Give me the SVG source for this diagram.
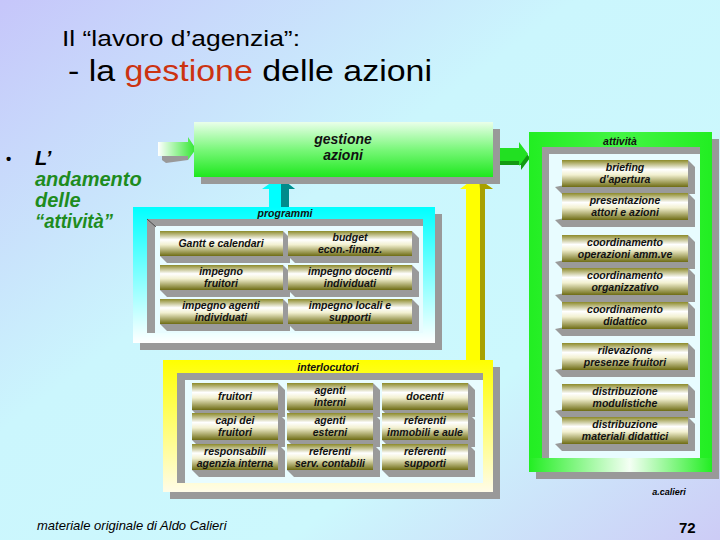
<svg xmlns="http://www.w3.org/2000/svg" width="720" height="540" viewBox="0 0 720 540">
<defs>
<linearGradient id="bg" x1="0" y1="0" x2="1" y2="1">
<stop offset="0" stop-color="#c6c6fa"/><stop offset="0.4" stop-color="#cbf6fd"/><stop offset="0.7" stop-color="#ccf8fd"/><stop offset="1" stop-color="#cdccf6"/>
</linearGradient>
<linearGradient id="olive" x1="0" y1="0" x2="0" y2="1">
<stop offset="0" stop-color="#8c8a2a"/><stop offset="0.35" stop-color="#ffffff"/><stop offset="0.55" stop-color="#f2f0d0"/><stop offset="1" stop-color="#6e6c14"/>
</linearGradient>
<linearGradient id="gbox" x1="0" y1="0" x2="0" y2="1">
<stop offset="0" stop-color="#eaffea"/><stop offset="0.5" stop-color="#7af77a"/><stop offset="1" stop-color="#1ee81e"/>
</linearGradient>
<linearGradient id="garrow" x1="0" y1="0" x2="1" y2="0">
<stop offset="0" stop-color="#ffffff"/><stop offset="1" stop-color="#2ee62e"/>
</linearGradient>
<linearGradient id="cyanf" x1="0" y1="0" x2="0" y2="1">
<stop offset="0" stop-color="#00ffff"/><stop offset="1" stop-color="#ffffff"/>
</linearGradient>
<linearGradient id="yelf" x1="0" y1="0" x2="0" y2="1">
<stop offset="0" stop-color="#ffff00"/><stop offset="1" stop-color="#fffce8"/>
</linearGradient>
<linearGradient id="grnf" x1="0" y1="0" x2="1" y2="0">
<stop offset="0" stop-color="#22ee22"/><stop offset="0.5" stop-color="#44f544"/><stop offset="1" stop-color="#22ee22"/>
</linearGradient>
<linearGradient id="grnb" x1="0" y1="0" x2="1" y2="0">
<stop offset="0" stop-color="#22ee22"/><stop offset="0.55" stop-color="#f4fff4"/><stop offset="1" stop-color="#22ee22"/>
</linearGradient>
<style>
.t{font-family:"Liberation Sans",Arial,sans-serif;font-weight:bold;font-style:italic;font-size:10.5px;fill:#111;text-anchor:middle}
.tb{font-size:14px}
.ob{fill:url(#olive)}
.ex{fill:#9a9a9a}
.sh{fill:#999999}
.pan{fill:#e8fcff}
.bev{fill:#9c9c9c}
</style>
</defs>
<rect width="720" height="540" fill="url(#bg)"/>

<g id="title" font-family="Liberation Sans,Arial,sans-serif">
<text x="62" y="46" font-size="22" fill="#000" textLength="238" lengthAdjust="spacingAndGlyphs">Il “lavoro d’agenzia”:</text>
<text x="68" y="81" font-size="30" fill="#000" textLength="364" lengthAdjust="spacingAndGlyphs">- la <tspan fill="#cc3311">gestione</tspan> delle azioni</text>
</g>

<g id="bullet" font-family="Liberation Sans,Arial,sans-serif" font-weight="bold" font-size="20">
<text x="6" y="164" font-size="15" fill="#000">•</text>
<text x="35" y="165" font-style="italic" fill="#000">L’</text>
<text x="35" y="186" font-style="italic" fill="#1e8c1e">andamento</text>
<text x="35" y="207" font-style="italic" fill="#1e8c1e">delle</text>
<text x="35" y="228" font-style="italic" fill="#1e8c1e" textLength="78" lengthAdjust="spacingAndGlyphs">“attività”</text>
</g>

<g id="connectors">
<polygon class="sh" points="162,156 188,156 188,160 166,163 162,160"/>
<polygon fill="url(#garrow)" points="158,142 188,142 188,137 196,149 188,160 188,156 158,156"/>
<polygon fill="#129a12" points="495,152 521,152 521,146 530,158 521,170 521,165 495,165"/>
<polygon fill="#22e022" points="493,148 519,148 519,142 528,154 519,166 519,161 493,161"/>
<polygon fill="#00ffff" points="279,177 295,189 289,189 289,213 269,213 269,189 262,189"/>
<polygon fill="#008b8b" points="281,178 295,189 289,189 289,213 281,213"/>
<polygon fill="#ffff00" points="476,177 493,189 485,189 485,361 466,361 466,189 460,189"/>
<polygon fill="#a8a000" points="479,179 493,189 485,189 485,361 480,361 480,189"/>
</g>

<g id="gestione">
<rect x="201" y="129" width="299" height="55" class="sh"/>
<rect x="194" y="122" width="299" height="55" fill="url(#gbox)"/>
<text class="t tb" x="343" y="144">gestione</text>
<text class="t tb" x="343" y="160">azioni</text>
</g>

<g id="programmi">
<rect x="140" y="214" width="302" height="136" class="sh"/>
<rect x="133" y="207" width="302" height="136" fill="url(#cyanf)"/>
<rect x="147" y="219" width="276" height="114" class="pan"/>
<path class="bev" d="M147,219H423V226H155V333H147Z"/>
<line x1="147" y1="219" x2="156" y2="227" stroke="#333" stroke-width="0.8"/>
<text class="t" x="285" y="217">programmi</text>
</g>

<g id="p1"><polygon class="ex" points="283,231 290,238 290,263 167,263 160,256"/><rect class="ob" x="160" y="231" width="123" height="25"/><text class="t" x="221" y="247">Gantt e calendari</text></g>
<g id="p2"><polygon class="ex" points="412,231 419,238 419,263 295,263 288,256"/><rect class="ob" x="288" y="231" width="124" height="25"/><text class="t" x="350" y="241">budget</text><text class="t" x="350" y="253">econ.-finanz.</text></g>
<g id="p3"><polygon class="ex" points="283,265 290,272 290,297 167,297 160,290"/><rect class="ob" x="160" y="265" width="123" height="25"/><text class="t" x="221" y="275">impegno</text><text class="t" x="221" y="287">fruitori</text></g>
<g id="p4"><polygon class="ex" points="412,265 419,272 419,297 295,297 288,290"/><rect class="ob" x="288" y="265" width="124" height="25"/><text class="t" x="350" y="275">impegno docenti</text><text class="t" x="350" y="287">individuati</text></g>
<g id="p5"><polygon class="ex" points="283,299 290,306 290,331 167,331 160,324"/><rect class="ob" x="160" y="299" width="123" height="25"/><text class="t" x="221" y="309">impegno agenti</text><text class="t" x="221" y="321">individuati</text></g>
<g id="p6"><polygon class="ex" points="412,299 419,306 419,331 295,331 288,324"/><rect class="ob" x="288" y="299" width="124" height="25"/><text class="t" x="350" y="309">impegno locali e</text><text class="t" x="350" y="321">supporti</text></g>

<g id="interlocutori">
<rect x="170" y="367" width="330" height="132" class="sh"/>
<rect x="163" y="360" width="330" height="132" fill="url(#yelf)"/>
<rect x="177" y="373" width="306" height="110" class="pan"/>
<path class="bev" d="M177,373H483V380H185V483H177Z"/>
<text class="t" x="328" y="371">interlocutori</text>
</g>

<g id="i1"><polygon class="ex" points="278,383 285,390 285,417 199,417 192,410"/><rect class="ob" x="192" y="383" width="86" height="27"/><text class="t" x="235" y="400">fruitori</text></g>
<g id="i2"><polygon class="ex" points="373,383 380,390 380,417 294,417 287,410"/><rect class="ob" x="287" y="383" width="86" height="27"/><text class="t" x="330" y="394">agenti</text><text class="t" x="330" y="406">interni</text></g>
<g id="i3"><polygon class="ex" points="468,383 475,390 475,417 389,417 382,410"/><rect class="ob" x="382" y="383" width="86" height="27"/><text class="t" x="425" y="400">docenti</text></g>
<g id="i4"><polygon class="ex" points="278,413 285,420 285,447 199,447 192,440"/><rect class="ob" x="192" y="413" width="86" height="27"/><text class="t" x="235" y="424">capi dei</text><text class="t" x="235" y="436">fruitori</text></g>
<g id="i5"><polygon class="ex" points="373,413 380,420 380,447 294,447 287,440"/><rect class="ob" x="287" y="413" width="86" height="27"/><text class="t" x="330" y="424">agenti</text><text class="t" x="330" y="436">esterni</text></g>
<g id="i6"><polygon class="ex" points="468,413 475,420 475,447 389,447 382,440"/><rect class="ob" x="382" y="413" width="86" height="27"/><text class="t" x="425" y="424">referenti</text><text class="t" x="425" y="436">immobili e aule</text></g>
<g id="i7"><polygon class="ex" points="278,444 285,451 285,477 199,477 192,470"/><rect class="ob" x="192" y="444" width="86" height="26"/><text class="t" x="235" y="455">responsabili</text><text class="t" x="235" y="467">agenzia interna</text></g>
<g id="i8"><polygon class="ex" points="373,444 380,451 380,477 294,477 287,470"/><rect class="ob" x="287" y="444" width="86" height="26"/><text class="t" x="330" y="455">referenti</text><text class="t" x="330" y="467">serv. contabili</text></g>
<g id="i9"><polygon class="ex" points="468,444 475,451 475,477 389,477 382,470"/><rect class="ob" x="382" y="444" width="86" height="26"/><text class="t" x="425" y="455">referenti</text><text class="t" x="425" y="467">supporti</text></g>

<g id="attivita">
<rect x="536" y="139" width="183" height="340" class="sh"/>
<rect x="529" y="132" width="183" height="340" fill="url(#grnf)"/>
<rect x="529" y="458" width="183" height="14" fill="url(#grnb)"/>
<rect x="542" y="147" width="158" height="311" class="pan"/>
<path class="bev" d="M542,147H700V154H549V458H542Z"/>
<text class="t" x="620" y="145">attività</text>
</g>

<g id="a1"><polygon class="ex" points="688,160 695,167 695,194 562,194 555,187"/><rect class="ob" x="562" y="160" width="126" height="27"/><text class="t" x="625" y="171">briefing</text><text class="t" x="625" y="183">d'apertura</text></g>
<g id="a2"><polygon class="ex" points="688,193 695,200 695,227 562,227 555,220"/><rect class="ob" x="562" y="193" width="126" height="27"/><text class="t" x="625" y="204">presentazione</text><text class="t" x="625" y="216">attori e azioni</text></g>
<g id="a3"><polygon class="ex" points="688,235 695,242 695,269 562,269 555,262"/><rect class="ob" x="562" y="235" width="126" height="27"/><text class="t" x="625" y="246">coordinamento</text><text class="t" x="625" y="258">operazioni  amm.ve</text></g>
<g id="a4"><polygon class="ex" points="688,268 695,275 695,302 562,302 555,295"/><rect class="ob" x="562" y="268" width="126" height="27"/><text class="t" x="625" y="279">coordinamento</text><text class="t" x="625" y="291">organizzativo</text></g>
<g id="a5"><polygon class="ex" points="688,302 695,309 695,336 562,336 555,329"/><rect class="ob" x="562" y="302" width="126" height="27"/><text class="t" x="625" y="313">coordinamento</text><text class="t" x="625" y="325">didattico</text></g>
<g id="a6"><polygon class="ex" points="688,343 695,350 695,377 562,377 555,370"/><rect class="ob" x="562" y="343" width="126" height="27"/><text class="t" x="625" y="354">rilevazione</text><text class="t" x="625" y="366">presenze fruitori</text></g>
<g id="a7"><polygon class="ex" points="688,384 695,391 695,418 562,418 555,411"/><rect class="ob" x="562" y="384" width="126" height="27"/><text class="t" x="625" y="395">distribuzione</text><text class="t" x="625" y="407">modulistiche</text></g>
<g id="a8"><polygon class="ex" points="688,417 695,424 695,451 562,451 555,444"/><rect class="ob" x="562" y="417" width="126" height="27"/><text class="t" x="625" y="428">distribuzione</text><text class="t" x="625" y="440">materiali didattici</text></g>

<g id="footer" font-family="Liberation Sans,Arial,sans-serif" fill="#000">
<text x="37" y="530" font-size="13" font-style="italic">materiale originale di Aldo Calieri</text>
<text x="669" y="495" font-size="9" font-weight="bold" font-style="italic" text-anchor="middle">a.calieri</text>
<text x="679" y="533" font-size="15" font-weight="bold">72</text>
</g>
</svg>
